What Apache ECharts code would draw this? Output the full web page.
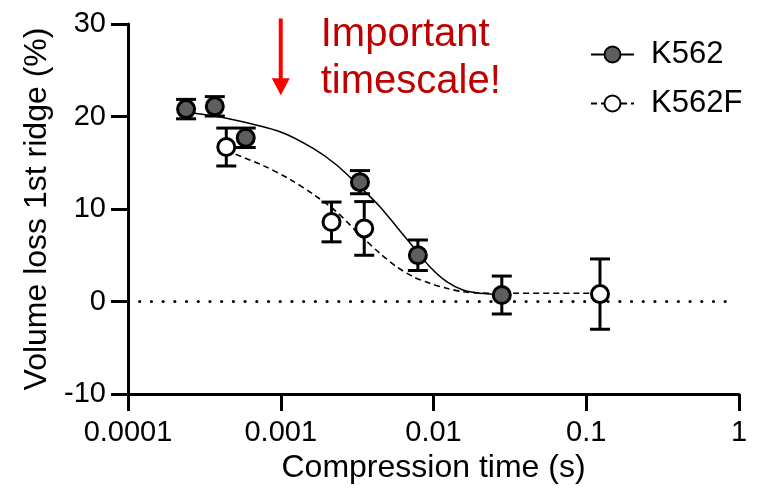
<!DOCTYPE html>
<html><head><meta charset="utf-8">
<script src="https://cdn.jsdelivr.net/npm/echarts@6/dist/echarts.min.js"></script>
<style>html,body{margin:0;padding:0;background:#fff}#c{width:769px;height:490px}</style>
</head><body><div id="c"></div>
<script>
// ---- data ----
const xTickLabels = ['0.0001', '0.001', '0.01', '0.1', '1'];
const yTickLabels = ['-10', '0', '10', '20', '30'];

const k562X   = [0.00024, 0.00037, 0.00059, 0.0033, 0.0079, 0.028];
const k562Y   = [20.8, 21.1, 17.7, 12.9, 5.0, 0.7];
const k562Err = [1.05, 1.05, 1.05, 1.25, 1.65, 2.05];

const k562fX   = [0.00044, 0.00215, 0.00352, 0.123];
const k562fY   = [16.7, 8.6, 7.9, 0.8];
const k562fErr = [2.05, 2.15, 2.9, 3.8];

const k562FitX = [0.00024, 0.000274, 0.000466, 0.000989, 0.00163, 0.00232, 0.00347, 0.00446, 0.00573, 0.00736, 0.00946, 0.0122, 0.0156, 0.0201, 0.0281];
const k562FitY = [20.45, 20.35, 19.73, 18.36, 16.56, 14.76, 12.05, 10.25, 8.09, 5.92, 3.76, 2.14, 1.24, 0.89, 0.76];

const k562fFitX = [0.00044, 0.000767, 0.00115, 0.00163, 0.00232, 0.0033, 0.00446, 0.00573, 0.00736, 0.00946, 0.0122, 0.0156, 0.0201, 0.0281, 0.123];
const k562fFitY = [16.3, 14.7, 13.2, 11.6, 9.7, 7.19, 5.21, 3.76, 2.68, 1.97, 1.43, 1.06, 0.92, 0.89, 0.89];

const zeroLineX = [0.0001, 0.9];
const zeroLineY = [0, 0];

const arrowX = [0.001, 0.001];
const arrowY = [30.6, 22.3];
const noteLines = ['Important', 'timescale!'];

// ---- chart ----
const FONT = '"Liberation Sans", Arial, sans-serif';
const zip = (a, b) => a.map((v, i) => [v, b[i]]);

const errData = (xs, ys, es) => xs.map((x, i) => [x, ys[i] - es[i], ys[i] + es[i]]);

function errRender(params, api) {
  const x = api.value(0), lo = api.value(1), hi = api.value(2);
  const pLo = api.coord([x, lo]);
  const pHi = api.coord([x, hi]);
  const cap = 10;
  const st = { stroke: '#000', lineWidth: 3, fill: null };
  return {
    type: 'group',
    children: [
      { type: 'line', shape: { x1: pLo[0], y1: pLo[1], x2: pHi[0], y2: pHi[1] }, style: st },
      { type: 'line', shape: { x1: pLo[0] - cap, y1: pLo[1], x2: pLo[0] + cap, y2: pLo[1] }, style: st },
      { type: 'line', shape: { x1: pHi[0] - cap, y1: pHi[1], x2: pHi[0] + cap, y2: pHi[1] }, style: st }
    ]
  };
}

const chart = echarts.init(document.getElementById('c'), null, { renderer: 'canvas' });
const axisLabel = { color: '#000', fontSize: 29, fontFamily: FONT };

chart.setOption({
  animation: false,
  backgroundColor: '#fff',
  textStyle: { fontFamily: FONT },
  grid: { left: 128, right: 30, top: 24, bottom: 96, containLabel: false },
  legend: {
    orient: 'vertical',
    left: 585, top: 34,
    itemWidth: 43, itemHeight: 20, itemGap: 18,
    textStyle: { color: '#000', fontSize: 31, lineHeight: 30, fontFamily: FONT, padding: [0, 0, 0, 12] },
    data: ['K562', 'K562F']
  },
  xAxis: {
    type: 'log', logBase: 10, min: 0.0001, max: 1,
    name: 'Compression time (s)', nameLocation: 'middle', nameGap: 50,
    nameTextStyle: { color: '#000', fontSize: 32, fontFamily: FONT },
    axisLine: { onZero: false, lineStyle: { color: '#000', width: 3 } },
    axisTick: { length: 17, lineStyle: { color: '#000', width: 3 } },
    minorTick: { show: false },
    splitLine: { show: false },
    axisLabel: Object.assign({ margin: 24, formatter: v => xTickLabels[Math.round(Math.log10(v)) + 4] }, axisLabel)
  },
  yAxis: {
    type: 'value', min: -10, max: 30, interval: 10,
    name: 'Volume loss 1st ridge (%)', nameLocation: 'middle', nameGap: 74,
    nameTextStyle: { color: '#000', fontSize: 32, fontFamily: FONT },
    axisLine: { show: true, onZero: false, lineStyle: { color: '#000', width: 3 } },
    axisTick: { show: true, length: 17, lineStyle: { color: '#000', width: 3 } },
    splitLine: { show: false },
    axisLabel: Object.assign({ margin: 22, formatter: v => yTickLabels[Math.round((v + 10) / 10)] }, axisLabel)
  },
  graphic: [],
  series: [
    {
      name: 'zero', type: 'line', data: zip(zeroLineX, zeroLineY), symbol: 'none', silent: true,
      lineStyle: { color: '#000', width: 3.2, type: [0.01, 11.7], cap: 'round' }, z: 1
    },
    {
      name: 'K562', type: 'line', data: zip(k562FitX, k562FitY), smooth: 0.3,
      showSymbol: false, symbol: 'circle', symbolSize: 16,
      itemStyle: { color: '#5e5e5e', borderColor: '#000', borderWidth: 3 },
      lineStyle: { color: '#000', width: 1.5, type: 'solid' }, z: 2
    },
    {
      name: 'K562F', type: 'line', data: zip(k562fFitX, k562fFitY), smooth: 0.3,
      showSymbol: false, symbol: 'circle', symbolSize: 16,
      itemStyle: { color: '#fff', borderColor: '#000', borderWidth: 3 },
      lineStyle: { color: '#000', width: 1.6, type: [6, 4] }, z: 2
    },
    { name: 'errK562', type: 'custom', renderItem: errRender, data: errData(k562X, k562Y, k562Err), z: 3, silent: true },
    { name: 'errK562F', type: 'custom', renderItem: errRender, data: errData(k562fX, k562fY, k562fErr), z: 3, silent: true },
    {
      name: 'ptsK562', type: 'scatter', data: zip(k562X, k562Y), symbol: 'circle', symbolSize: 17,
      itemStyle: { color: '#5e5e5e', borderColor: '#000', borderWidth: 3, opacity: 1 }, z: 4
    },
    {
      name: 'ptsK562F', type: 'scatter', data: zip(k562fX, k562fY), symbol: 'circle', symbolSize: 17,
      itemStyle: { color: '#fff', borderColor: '#000', borderWidth: 3, opacity: 1 }, z: 4
    },
    {
      name: 'arrow', type: 'custom', silent: true, z: 5,
      data: [[arrowX[0], arrowY[0], arrowY[1]]],
      renderItem: function (params, api) {
        const top = api.coord([api.value(0), api.value(1)]);
        const tip = api.coord([api.value(0), api.value(2)]);
        const headH = 17, headW = 9;
        return {
          type: 'group',
          children: [
            { type: 'line', shape: { x1: top[0], y1: top[1], x2: tip[0], y2: tip[1] - headH + 2 }, style: { stroke: '#ff0000', lineWidth: 4 } },
            { type: 'polygon', shape: { points: [[tip[0] - headW, tip[1] - headH], [tip[0] + headW, tip[1] - headH], [tip[0], tip[1]]] }, style: { fill: '#ff0000' } }
          ]
        };
      }
    }
  ]
});

// annotation text placed relative to the arrow
const p0 = chart.convertToPixel({ xAxisIndex: 0, yAxisIndex: 0 }, [arrowX[0], arrowY[0]]);
chart.setOption({
  graphic: [
    { type: 'text', left: p0[0] + 40, top: 11, style: { text: noteLines.join('\n'), fill: '#c00000', font: '40px ' + FONT, lineHeight: 47 } }
  ]
});
</script></body></html>
